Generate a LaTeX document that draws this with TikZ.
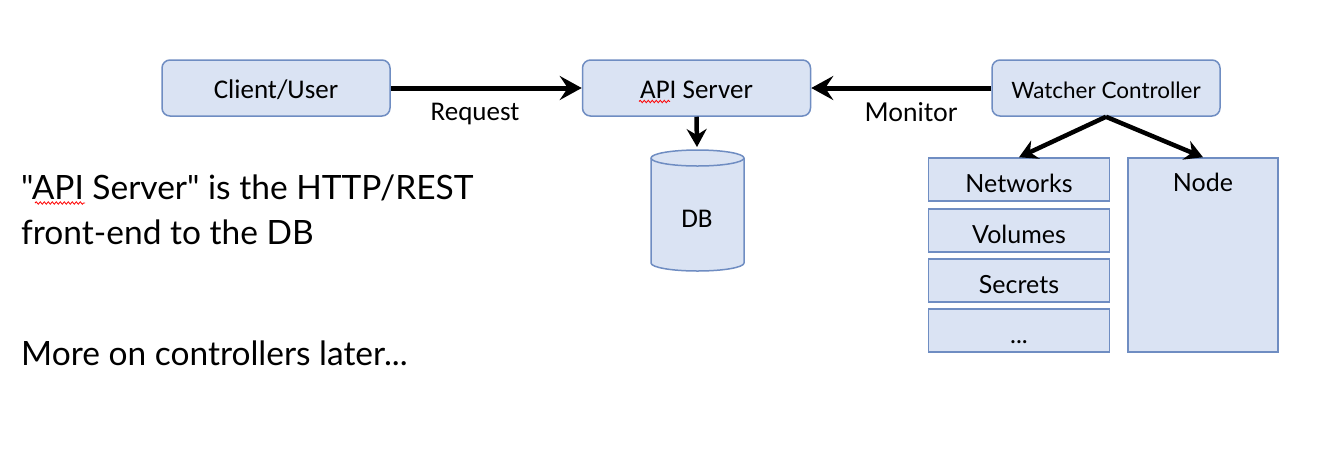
\documentclass[tikz,border=0pt]{standalone}
\usepackage{fontspec}
\setmainfont{Lato}[Ligatures=TeXOff]
\newfontfamily\carl{Carlito}
\usetikzlibrary{arrows.meta,decorations.pathmorphing}
\definecolor{boxfill}{HTML}{DAE3F3}
\definecolor{boxline}{HTML}{6F8DC2}
\begin{document}
\begin{tikzpicture}[x=1pt,y=-1pt,
 rbox/.style={draw=boxline, fill=boxfill, line width=1.5pt, rounded corners=8pt, minimum width=228pt, minimum height=56pt, inner sep=0pt, text height=20pt, text depth=0pt, font=\carl\fontsize{27}{32}\selectfont},
 sbox/.style={draw=boxline, fill=boxfill, line width=1.5pt, minimum width=181pt, minimum height=43pt, inner sep=0pt, text height=25pt, text depth=0pt, font=\fontsize{25}{30}\selectfont},
 conn/.style={line width=5pt, -{Stealth[length=22pt,width=24pt,inset=8pt]}},
 conn2/.style={line width=4.5pt, -{Stealth[length=18pt,width=20pt,inset=6pt]}},
 lbl/.style={anchor=base, inner sep=0pt, font=\carl\fontsize{27}{32}\selectfont},
 note/.style={anchor=base west, inner sep=0pt, font=\fontsize{33.5}{40}\selectfont},
 squig/.style={red, line width=0.8pt, decorate, decoration={snake, amplitude=1.2pt, segment length=4pt}}]

\useasboundingbox[fill=white] (0,0) rectangle (1332,459);

\node[rbox] (client) at (276,88) {Client/User};
\node[rbox] (api) at (696.5,88) {API Server};
\node[rbox, font=\fontsize{22.5}{26}\selectfont] (watch) at (1106,88) {Watcher Controller};

\draw[conn] (client.east) -- (api.west);
\node[lbl] (req) at (475,120) {Request};
\draw[conn] (watch.west) -- (api.east);
\node[lbl, font=\fontsize{26}{30}\selectfont] (mon) at (911,121) {Monitor};

\coordinate (dbtop) at (697,147);
\draw[conn2] (api.south) -- (dbtop);
\filldraw[draw=boxline, fill=boxfill, line width=1.5pt] (651,158) -- (651,263) arc[start angle=180, end angle=0, x radius=46.5, y radius=8] -- (744,158) arc[start angle=0, end angle=-180, x radius=46.5, y radius=8] -- cycle;
\draw[boxline, line width=1.5pt] (651,158) arc[start angle=180, end angle=0, x radius=46.5, y radius=8];
\node[lbl] (db) at (697,227) {DB};

\node[sbox] (net) at (1019,179.5) {Networks};
\node[sbox] (vol) at (1019,230.5) {Volumes};
\node[sbox] (sec) at (1019,280.5) {Secrets};
\node[sbox] (etc) at (1019,330.5) {...};
\node[draw=boxline, fill=boxfill, line width=1.5pt, minimum width=150pt, minimum height=194pt, inner sep=0pt] (nodebox) at (1203,255) {};
\node[anchor=base, inner sep=0pt, font=\fontsize{25}{30}\selectfont] (nodelbl) at (1203,191) {Node};

\draw[conn2] (watch.south) -- (net.north);
\draw[conn2] (watch.south) -- (nodebox.north);

\node[note] (n1) at (21,199) {"API Server" is the HTTP/REST};
\node[note] (n2) at (21,244) {front-end to the DB};
\node[note] (n3) at (21,365) {More on controllers later...};

\draw[squig] (639,101.5) -- (670,101.5);
\draw[squig] (35,203) -- (85,203);
\end{tikzpicture}
\end{document}
